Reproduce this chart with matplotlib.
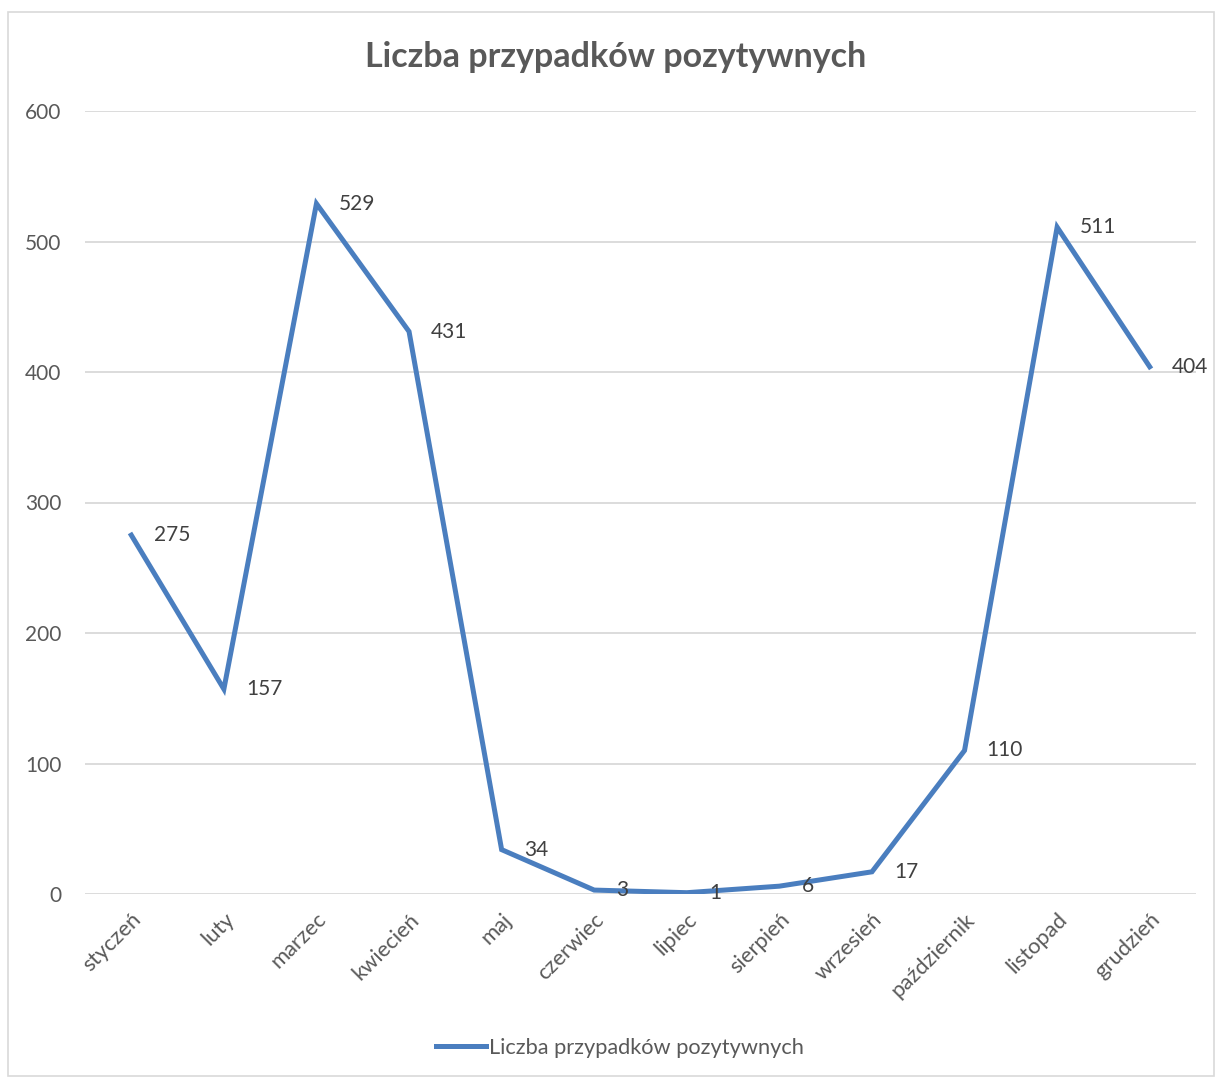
import matplotlib
matplotlib.use("Agg")
import matplotlib.pyplot as plt
from matplotlib.patches import Rectangle

months = ["styczeń", "luty", "marzec", "kwiecień", "maj", "czerwiec",
          "lipiec", "sierpień", "wrzesień", "październik", "listopad", "grudzień"]
cases = [275, 157, 529, 431, 34, 3, 1, 6, 17, 110, 511, 404]
series_name = "Liczba przypadków pozytywnych"
y_ticks = [0, 100, 200, 300, 400, 500, 600]

W, H = 1215, 1078
plt.rcParams["font.family"] = ["Lato", "DejaVu Sans"]
text_color = "#595959"
line_color = "#4A7EBF"
grid_color = "#d9d9d9"
fs = 15

fig = plt.figure(figsize=(W / 100, H / 100), dpi=100)
fig.patches.append(Rectangle((8 / W, 1 - 1076 / H), (1214 - 8) / W, (1076 - 12) / H,
                             transform=fig.transFigure, fill=False,
                             edgecolor=grid_color, linewidth=1.2))

ax = fig.add_axes([85 / W, 1 - 894 / H, (1196 - 85) / W, (894 - 111) / H])
x = list(range(len(months)))
ax.plot(x, cases, color=line_color, linewidth=3.6, solid_joinstyle="miter",
        label=series_name, zorder=3)

for xi, v in zip(x, cases):
    ax.annotate(str(v), (xi, v), xytext=(16, 0), textcoords="offset points",
                ha="left", va="center", fontsize=fs, color="#404040", zorder=4)

ax.set_xlim(-0.5, len(months) - 0.5)
ax.set_ylim(0, 600)
ax.set_yticks(y_ticks)
ax.set_yticklabels([str(t) for t in y_ticks], fontsize=fs, color=text_color)
ax.set_xticks(x)
ax.set_xticklabels(months, rotation=45, ha="right", va="top",
                   rotation_mode="anchor", fontsize=15.8, color=text_color)
ax.tick_params(axis="both", length=0)
ax.tick_params(axis="y", pad=17)
ax.tick_params(axis="x", pad=11)
ax.grid(axis="y", color=grid_color, linewidth=1.3)
ax.set_axisbelow(True)
for s in ax.spines.values():
    s.set_visible(False)

fig.text(616 / W, 1 - 57 / H, series_name, ha="center", va="center",
         fontsize=24.5, fontweight="bold", color=text_color)

fig.legend(loc="center", bbox_to_anchor=(620 / W, 1 - 1048 / H), frameon=False,
           fontsize=15.7, labelcolor=text_color, handlelength=2.3, handletextpad=0.15)

fig.savefig("out.png", dpi=100, facecolor="white")
